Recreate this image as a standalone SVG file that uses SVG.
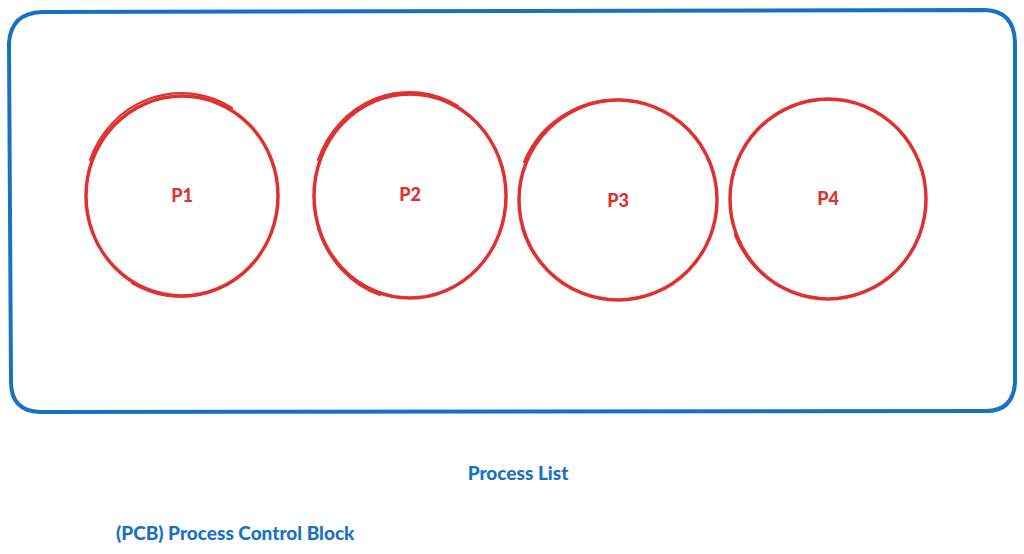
<svg xmlns="http://www.w3.org/2000/svg" width="1024" height="554" viewBox="0 0 1024 554">
<style>
.box{fill:none;stroke:#1971c2;stroke-width:4;stroke-linecap:round;stroke-linejoin:round}
.c{fill:none;stroke:#e03131;stroke-width:3.5;stroke-linecap:round}
.c2{fill:none;stroke:#e03131;stroke-width:2.2;stroke-linecap:round}
.pl{font-family:Lato,"Open Sans",sans-serif;font-weight:900;font-size:18px;fill:#e03131;text-anchor:middle;dominant-baseline:central}
.bl{font-family:Lato,"Open Sans",sans-serif;font-weight:900;font-size:19px;fill:#1971c2}
</style>
<rect width="1024" height="554" fill="#ffffff"/>
<g id="process-list-box">
<path class="box" d="M42 12 L985 10 Q1014 11 1015 42 L1015 383 Q1013 412 984 411 L40 412 Q11 411 11 382 L9 43 Q11 13 42 12 Z"/>
</g>
<g id="p1">
<ellipse class="c" cx="182" cy="196" rx="96" ry="100"/>
<path class="c2" d="M232 108 A97 101 0 0 0 90 160 M265 246 A97 101 0 0 1 132 283"/>
<text class="pl" x="182" y="195">P1</text>
</g>
<g id="p2">
<ellipse class="c" cx="410" cy="196" rx="96" ry="102"/>
<path class="c2" d="M458 106 A97 103 0 0 0 318 160 M318 228 A97 103 0 0 0 380 295"/>
<text class="pl" x="410" y="194">P2</text>
</g>
<g id="p3">
<ellipse class="c" cx="618" cy="200" rx="99" ry="100"/>
<path class="c2" d="M632 101 A100 101 0 0 0 524 162 M522 228 A100 101 0 0 0 580 292"/>
<text class="pl" x="618" y="200">P3</text>
</g>
<g id="p4">
<ellipse class="c" cx="828" cy="199" rx="98" ry="100"/>
<path class="c2" d="M840 100 A99 101 0 0 0 732 180 M735 235 A99 101 0 0 0 820 298"/>
<text class="pl" x="828" y="198">P4</text>
</g>
<g id="label-process-list">
<text class="bl" x="518" y="480" text-anchor="middle">Process List</text>
</g>
<g id="label-pcb">
<text class="bl" x="116" y="540">(PCB) Process Control Block</text>
</g>
<g id="connectors"></g>
</svg>
